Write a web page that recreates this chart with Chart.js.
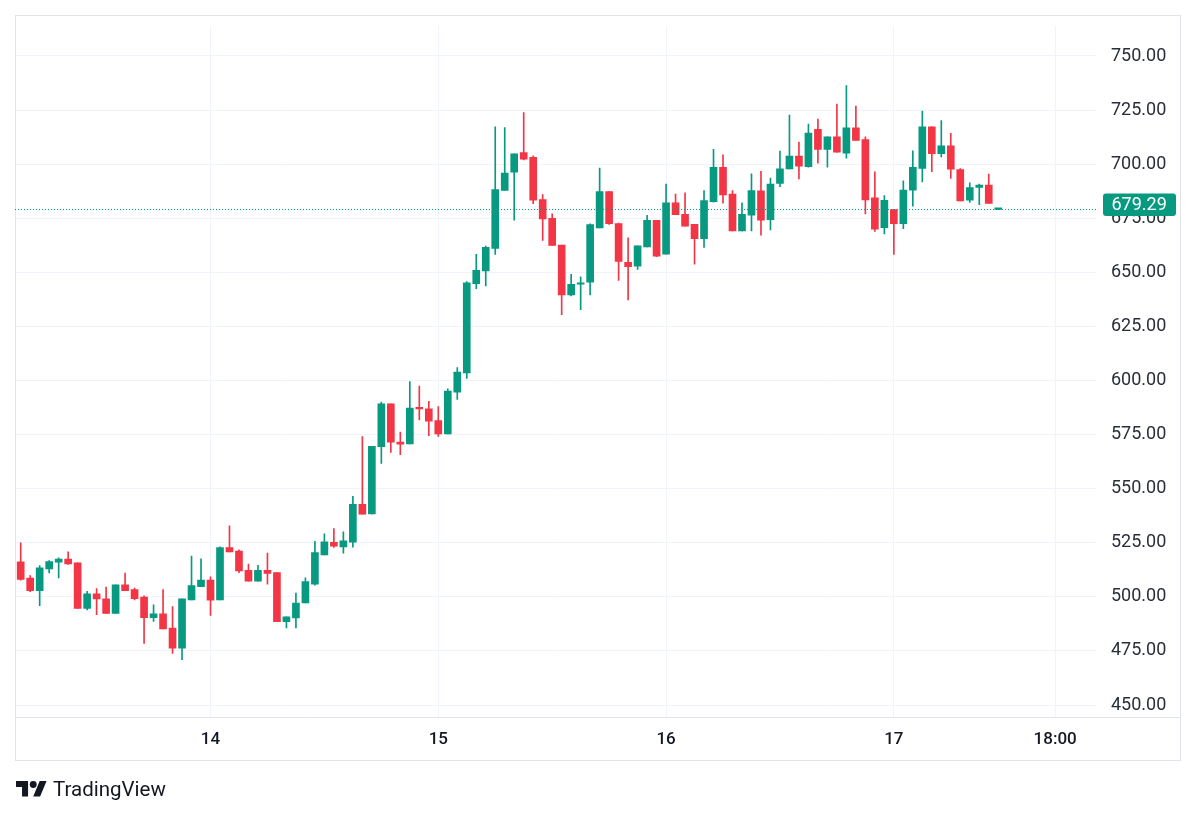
<!DOCTYPE html>
<html><head><meta charset="utf-8">
<script src="https://cdn.jsdelivr.net/npm/chart.js@4/dist/chart.umd.min.js"></script>
<style>
html,body{margin:0;padding:0;background:#fff;}
#wrap{position:relative;width:1200px;height:817px;overflow:hidden;}
canvas{position:absolute;left:0;top:0;}
#brand{position:absolute;left:16px;top:776px;font-family:Roboto,'Open Sans',sans-serif;font-size:20.5px;color:#131722;display:flex;align-items:center;gap:6px;line-height:26px;}
#brand svg{display:block;}
</style></head><body>
<div id="wrap"><canvas id="c" width="1200" height="817"></canvas>
<div id="brand"><svg width="31" height="15.5" viewBox="0 4 36 18"><path fill="#131722" d="M14 22H7V11H0V4h14v18zM28 22h-8l7.5-18h8L28 22z"/><circle fill="#131722" cx="20" cy="8" r="4"/></svg><span>TradingView</span></div></div>
<script>
// Hourly candles, index 0 = 13th 04:00
const opens  = [516.2,508.7,502.8,512.9,516.0,517.4,515.7,494.6,501.4,499.1,492.3,505.6,503.3,499.9,490.4,492.1,485.6,476.3,498.6,504.7,
507.7,498.6,522.8,521.2,512.3,507.2,512.3,511.2,488.5,490.3,497.2,505.9,519.4,525.2,523.1,525.3,542.8,538.3,569.4,589.2,
571.5,570.7,587.4,586.9,581.5,575.3,594.6,603.5,644.8,650.6,661.0,687.9,696.3,705.4,703.2,683.6,675.0,662.6,639.6,644.5,
645.5,670.5,687.3,672.5,654.6,652.9,661.8,674.0,658.4,682.1,676.8,672.2,665.6,682.7,698.5,686.2,669.1,676.4,687.7,674.4,
691.1,697.8,703.7,698.9,716.1,706.8,712.6,705.1,716.8,711.4,684.4,670.6,679.0,672.5,688.0,698.0,717.3,704.9,708.5,697.5,
683.3,689.2,690.3,679.1];
const highs  = [525.0,509.8,514.5,516.8,518.0,520.8,515.7,502.5,503.8,504.5,505.6,511.0,504.0,500.5,496.3,503.3,495.5,499.1,518.8,517.6,
509.2,523.1,532.8,521.7,515.1,514.6,520.2,511.2,490.8,501.7,508.8,525.7,529.1,531.5,530.0,546.4,574.1,569.6,590.0,589.2,
576.1,599.5,597.4,590.4,588.0,596.1,606.0,645.7,658.3,662.1,717.3,716.9,704.8,723.8,703.8,685.9,677.0,662.6,649.1,647.9,
672.4,698.2,687.3,672.8,665.9,662.2,676.3,674.0,690.8,686.2,686.7,672.2,687.8,706.9,704.3,687.8,682.1,695.5,696.7,693.6,
706.0,722.7,710.2,718.5,720.8,712.6,727.8,736.3,726.9,712.6,696.4,685.5,679.0,692.3,706.2,724.5,717.3,720.1,714.2,698.0,
691.4,690.8,695.4,679.6];
const lows   = [507.7,502.4,495.9,511.0,508.7,515.0,494.6,494.0,491.8,492.3,492.3,502.8,498.6,478.5,488.6,485.2,473.9,471.0,498.6,504.7,
491.4,498.6,520.8,511.2,507.2,507.2,505.9,488.5,485.6,485.6,497.2,505.4,519.4,522.8,520.2,523.0,538.2,538.3,561.7,566.8,
565.7,570.7,581.8,574.5,574.1,575.3,591.2,601.0,642.5,643.7,658.3,687.9,674.1,702.0,681.7,664.7,662.4,630.4,639.1,632.7,
639.6,670.5,672.2,646.3,637.3,651.4,661.8,657.2,658.4,676.6,671.3,653.8,661.5,682.4,682.0,669.1,669.1,669.2,667.2,669.6,
689.6,697.8,693.2,698.6,700.5,698.6,705.6,702.8,711.0,677.0,668.9,667.7,658.3,670.2,680.6,691.8,696.5,703.4,693.4,683.0,
682.3,681.3,681.8,679.0];
const closes = [508.0,502.8,513.4,516.3,517.4,515.2,494.6,501.4,499.0,492.3,505.6,502.8,499.1,490.4,492.1,485.2,476.3,499.1,505.2,507.7,
498.4,522.8,520.8,512.0,507.2,512.3,510.8,488.5,490.8,497.1,507.1,520.5,525.4,523.4,525.9,542.8,538.2,569.6,589.2,571.5,
570.6,587.2,586.9,581.2,575.3,595.1,603.9,645.2,650.9,661.6,688.2,695.9,704.8,702.3,683.3,674.7,662.4,639.6,644.5,645.2,
672.1,687.3,672.5,655.0,652.6,662.2,674.0,657.5,682.1,676.6,671.3,665.6,683.2,698.5,685.8,669.1,676.8,687.8,674.1,690.8,
697.8,703.7,699.1,714.4,706.8,712.6,705.6,716.8,711.0,683.5,669.9,683.3,672.5,688.0,698.5,717.3,704.9,708.5,697.7,683.0,
689.2,690.3,681.8,679.29];
const timeTickIndex = [20, 44, 68, 92, 109];
const timeTickLabels = ['14', '15', '16', '17', '18:00'];
const priceTicks = [450,475,500,525,550,575,600,625,650,675,700,725,750];

const GREEN = '#089981', RED = '#F23645';
const FONT = 'Roboto, "Open Sans", sans-serif';
const idx = opens.map((_, i) => i);
const colors = idx.map(i => closes[i] >= opens[i] ? GREEN : RED);
const lastPrice = closes[closes.length - 1];

// keep the price scale pinned: top tick at y=56, bottom tick at y=705
const rangePlugin = {
  id: 'pinRange',
  afterLayout(chart) {
    const y = chart.scales.y, a = chart.chartArea;
    const lo = priceTicks[0], hi = priceTicks[priceTicks.length - 1];
    const ppu = (705 - 56) / (hi - lo);
    y.max = hi + (56 - a.top) / ppu;
    y.min = lo - (a.bottom - 705) / ppu;
    y.configure();
  }
};

const framePlugin = {
  id: 'frame',
  beforeDraw(chart) {
    const ctx = chart.ctx;
    ctx.save();
    ctx.fillStyle = '#fff';
    ctx.fillRect(0, 0, chart.width, chart.height);
    ctx.restore();
  },
  afterDraw(chart) {
    const ctx = chart.ctx, a = chart.chartArea;
    const y = chart.scales.y.getPixelForValue(lastPrice);
    ctx.save();
    ctx.strokeStyle = '#e0e3eb';
    ctx.lineWidth = 1;
    ctx.strokeRect(15.5, 15.5, 1165, 745);
    ctx.beginPath();
    ctx.moveTo(15, Math.round(a.bottom) + 0.5);
    ctx.lineTo(1181, Math.round(a.bottom) + 0.5);
    ctx.stroke();
    // last price line
    ctx.strokeStyle = GREEN;
    ctx.setLineDash([1, 2]);
    ctx.beginPath();
    ctx.moveTo(a.left, Math.round(y) + 0.5);
    ctx.lineTo(a.right, Math.round(y) + 0.5);
    ctx.stroke();
    ctx.setLineDash([]);
    // label box
    ctx.fillStyle = GREEN;
    ctx.beginPath();
    if (ctx.roundRect) ctx.roundRect(1103, y - 15.5, 73, 22.5, 3);
    else ctx.rect(1103, y - 15.5, 73, 22.5);
    ctx.fill();
    ctx.fillStyle = '#fff';
    ctx.font = '18px ' + FONT;
    ctx.textBaseline = 'middle';
    ctx.textAlign = 'left';
    ctx.fillText(lastPrice.toFixed(2), 1111.5, y - 3.5);
    ctx.restore();
  }
};

new Chart(document.getElementById('c'), {
  type: 'bar',
  data: {
    datasets: [
      {
        label: 'body',
        data: idx.map(i => ({x: i, y: [opens[i], closes[i]]})),
        backgroundColor: colors,
        borderWidth: 0,
        barThickness: 7,
        minBarLength: 1.5,
        grouped: false,
        order: 0
      },
      {
        label: 'wick',
        data: idx.map(i => ({x: i, y: [lows[i], highs[i]]})),
        backgroundColor: colors,
        borderWidth: 0,
        barThickness: 1,
        minBarLength: 1,
        grouped: false,
        order: 1
      }
    ]
  },
  options: {
    responsive: false,
    animation: false,
    layout: {padding: {left: 15, top: 15, right: 19, bottom: 57}},
    plugins: {legend: {display: false}, tooltip: {enabled: false}},
    scales: {
      x: {
        type: 'linear',
        min: -0.6,
        max: 113.3,
        offset: false,
        grid: {color: '#f0f3fa', drawTicks: false, offset: false},
        border: {display: false},
        afterBuildTicks: (ax) => { ax.ticks = timeTickIndex.map(v => ({value: v})); },
        afterFit: (ax) => { ax.height = 43; },
        ticks: {
          padding: 13,
          color: '#131722',
          font: {family: FONT, size: 17, weight: '500'},
          maxRotation: 0,
          autoSkip: false,
          callback: (v) => timeTickLabels[timeTickIndex.indexOf(v)]
        }
      },
      y: {
        position: 'right',
        min: 444.4,
        max: 769,
        grid: {color: '#f0f3fa', drawTicks: false},
        border: {display: false},
        afterBuildTicks: (ax) => { ax.ticks = priceTicks.map(v => ({value: v})); },
        afterFit: (ax) => { ax.width = 85; },
        ticks: {
          padding: 15,
          color: '#2a2e39',
          font: {family: FONT, size: 18},
          callback: (v) => Number(v).toFixed(2)
        }
      }
    }
  },
  plugins: [rangePlugin, framePlugin]
});
</script>
</body></html>
